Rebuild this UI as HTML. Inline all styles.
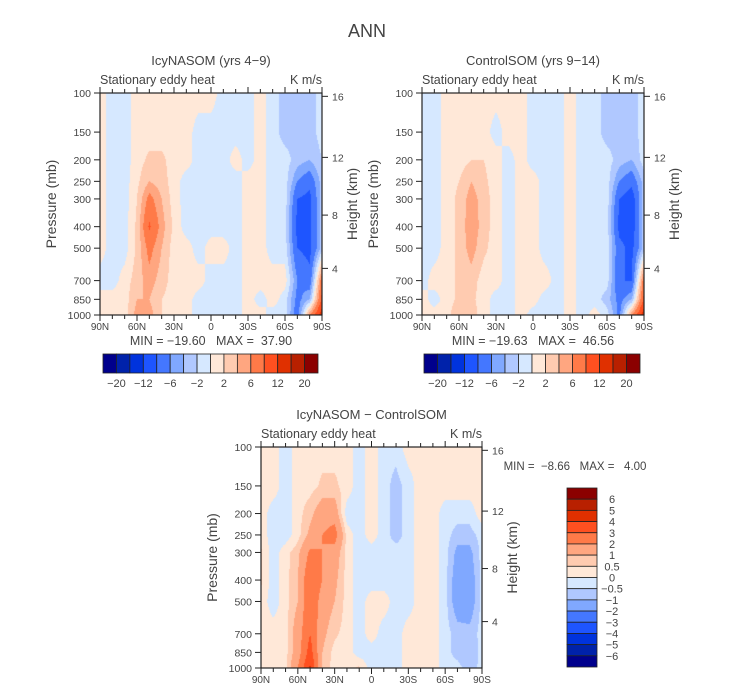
<!DOCTYPE html>
<html><head><meta charset="utf-8"><style>
body{margin:0;background:#fff;}
#wrap{position:relative;width:733px;height:693px;overflow:hidden;font-family:"Liberation Sans",sans-serif;}
canvas{position:absolute;}
svg{position:absolute;left:0;top:0;}
text{white-space:pre;}
</style></head><body>
<div id="wrap">
<canvas id="c1" width="222" height="222" style="left:100px;top:93px"></canvas>
<canvas id="c2" width="222" height="222" style="left:422px;top:93px"></canvas>
<canvas id="c3" width="221" height="221" style="left:261px;top:447px"></canvas>
<svg id="s" width="733" height="693"></svg>
</div>
<script>
const pressures=[100,150,200,250,300,400,500,700,850,1000];
const lats=[90,80,70,60,50,40,30,20,10,0,-10,-20,-30,-40,-50,-60,-70,-80,-90];
const icyField=[
[1,-1,-1,1,1,1,1,1,1,1,-1,-1,-1,1,-1,-3,-3,-3,-1],
[1,-1,-1,1,1,1,1,1,-1,-1,-1,-1,-1,1,-1,-3,-3,-3,-1],
[1,-1,-1,1,2.5,2.5,1,1,-1,-1,-1,1,-1,1,-1,-1,-3,-4,-2],
[1,-1,-1,1.5,4,3,1,-1,-1,-1,-1,-1,1,1,-1,-1,-6,-8,-3],
[1,-1,-1,2,7,4,1,-1,-1,-1,-1,-1,1,1,-1,-1,-9,-10,-3],
[1,-1,-1,2.5,9.5,5,1.5,-1,-1,-1,-1,-1,1,1,-1,-1,-10,-10,-3],
[1,-1,-1,2.5,7,4,1,1,-1,1,1,-1,1,1,-1,-1,-9,-10,-3],
[-1,-1,1,3,5,3,1,1,1,-1,-1,-1,1,1,1,1,-6,-8,8],
[1,1,1,4,4,2,1,1,-1,-1,-1,-1,1,-1,1,-1,-7,-4,10],
[1,1,1,5,5,2,1,1,-1,-1,-2,-1,1,1,-1,-1,-8,6,14]];
const ctlField=[
[-1,-1,1,1,1,1,1,1,1,-1,-1,-1,1,-1,-1,-3,-3,-3,-1],
[-1,-1,1,1,1,1,-1,1,1,-1,-1,-1,1,-1,-1,-3,-3,-3,-1],
[-1,-1,1,1,2,2,1,-1,1,-1,-1,-1,1,-1,-1,-1,-3,-4,-1],
[-1,-1,1,2,4,2.5,1,-1,1,1,-1,-1,1,-1,-1,-1,-6,-8,-3],
[-1,-1,1,2.5,5,3,1,-1,1,1,-1,-1,1,-1,-1,-1,-9,-11,-3],
[-1,-1,1,2.5,5.5,3,1,-1,1,1,-1,-1,1,-1,-1,-1,-10,-11,-3],
[-1,-1,1,2.5,5,2.5,1,-1,1,1,-1,-1,1,-1,-1,-1,-8,-10,-3],
[-1,1,1,2.5,3,1,1,-1,1,1,1,-1,1,-1,-1,-1,-9,-9,8],
[1,-1,1,2.5,2.5,1,-1,-1,1,1,-1,-1,1,-1,-1,-3,-7,-4,10],
[1,1,1,4,3,1,-1,-1,1,-1,-2,-1,1,-1,1,-1,-7,6,14]];
const diffField=[
[.3,.3,-.3,.3,.3,.3,.3,.3,-.3,.3,-.3,-.3,.3,.3,.3,.3,.3,.3,.3],
[.3,.3,-.3,.3,.3,.6,.6,.3,-.3,.3,-.3,-.7,-.3,.3,.3,.3,.3,.3,.3],
[.3,-.3,-.3,.3,.8,1.5,1.5,-.3,-.3,.3,-.3,-.7,-.3,.3,.3,-.3,-.3,-.3,.3],
[.3,-.3,-.3,.3,1.2,2,2.5,.3,-.3,.3,-.3,-.7,-.3,.3,.3,-.3,-.7,-.7,-.3],
[.6,-.3,.3,.8,2.2,2,1.5,.3,-.3,-.3,-.3,-.3,-.3,.3,.3,-.3,-1.2,-1.2,-.3],
[.6,-.3,.3,1,3,2,1.2,.3,-.3,-.3,-.3,-.3,-.3,.3,.3,-.3,-1.5,-1.5,-.3],
[.3,-.3,.3,1,3,1.5,1,.3,-.3,.3,.3,-.3,-.3,.3,.3,-.3,-1.5,-1.5,-.3],
[.3,.3,.3,1.5,3,1.2,.6,.3,-.3,.3,-.3,-.3,.3,.3,.3,-.3,-.7,-.8,-.3],
[.3,.3,.3,1.5,3.5,1,.3,.3,-.3,-.3,-.3,-.3,.3,.3,.3,-.3,-.7,-1,-.3],
[.3,.3,.3,2,4.2,.8,.3,.3,.6,-.3,-.3,-.3,.3,.3,.3,-.3,-.3,-.8,-.3]];
const levelsTop=[-20,-16,-12,-9,-6,-4,-2,0,2,4,6,9,12,16,20];
const levelLabelsTop=["-20","-12","-6","-2","2","6","12","20"];
const levelsDiff=[-6,-5,-4,-3,-2,-1,-0.5,0,0.5,1,2,3,4,5,6];
const levelLabelsDiff=["-6","-5","-4","-3","-2","-1","-0.5","0","0.5","1","2","3","4","5","6"];
const pTicks=[100,150,200,250,300,400,500,700,850,1000];
const latTicks=[90,60,30,0,-30,-60,-90];
const latTickLabels=["90N","60N","30N","0","30S","60S","90S"];
const hTicks=[16,12,8,4];
const colors=["#00008c","#0022aa","#0033dd","#1e55ff","#4477ff","#80a8ff","#b0c8ff","#d6e8ff","#ffe8d8","#ffcbb0","#ffa680","#ff7a48","#ff5020","#e03000","#b82000","#8b0000"];
function hex(c){return [parseInt(c.slice(1,3),16),parseInt(c.slice(3,5),16),parseInt(c.slice(5,7),16)];}
const rgb=colors.map(hex);
function pFrac(p){return Math.log10(p)-2;}
function hFrac(h){return {16:0.015,12:0.29,8:0.55,4:0.79}[h];}
function render(id,field,levels){
  const cv=document.getElementById(id),ctx=cv.getContext('2d');
  const W=cv.width,H=cv.height,img=ctx.createImageData(W,H);
  const lf=pressures.map(pFrac);
  for(let y=0;y<H;y++){
    const f=(y+0.5)/H;let r=0;while(r<lf.length-2&&lf[r+1]<f)r++;
    const ty=Math.min(1,Math.max(0,(f-lf[r])/(lf[r+1]-lf[r])));
    for(let x=0;x<W;x++){
      const gx=(x+0.5)/W*(lats.length-1);const c=Math.min(lats.length-2,Math.floor(gx));const tx=gx-c;
      const v=(field[r][c]*(1-tx)+field[r][c+1]*tx)*(1-ty)+(field[r+1][c]*(1-tx)+field[r+1][c+1]*tx)*ty;
      let k=0;while(k<levels.length&&v>levels[k])k++;
      const col=rgb[k],i=(y*W+x)*4;img.data[i]=col[0];img.data[i+1]=col[1];img.data[i+2]=col[2];img.data[i+3]=255;
    }}
  ctx.putImageData(img,0,0);
}
render('c1',icyField,levelsTop);render('c2',ctlField,levelsTop);render('c3',diffField,levelsDiff);
const S=document.getElementById('s'),NS="http://www.w3.org/2000/svg";
function el(t,a,parent){const e=document.createElementNS(NS,t);for(const k in a)e.setAttribute(k,a[k]);(parent||S).appendChild(e);return e;}
function txt(x,y,s,size,anchor,name,extra){const e=el('text',Object.assign({x:x,y:y,'font-size':size,'text-anchor':anchor||'middle',fill:'#444','font-family':'Liberation Sans, sans-serif'},extra||{}));e.textContent=s.replace(/-/g,'\u2212');


return e;}
txt(367,37,'ANN',18,'middle','figure-title');
function panel(L,T,W,H,title,minmax,pfx){
  const g=el('g',{});
  
  
  el('rect',{x:L,y:T,width:W,height:H,fill:'none',stroke:'#222','stroke-width':1.2},g);
  const cx=L+W/2;
  txt(cx,T-28,title,13,'middle',pfx+'-title');
  txt(L,T-9,'Stationary eddy heat',12.5,'start',pfx+'-variable-label');
  txt(L+W,T-9,'K m/s',12.5,'end',pfx+'-units-label');
  for(let la=90;la>=-90;la-=10){const x=L+W*(90-la)/180;const maj=la%30===0;
    el('line',{x1:x,y1:T+H,x2:x,y2:T+H+(maj?6:4),stroke:'#222'},g);
    el('line',{x1:x,y1:T,x2:x,y2:T-(maj?6:4),stroke:'#222'},g);}
  latTicks.forEach((la,i)=>{txt(L+W*(90-la)/180,T+H+15,latTickLabels[i],10,'middle',pfx+'-x-tick-label');});
  pTicks.forEach(p=>{const y=T+H*pFrac(p);el('line',{x1:L,y1:y,x2:L-6,y2:y,stroke:'#222'},g);txt(L-9,y+4,String(p),10.5,'end',pfx+'-y-tick-label');});
  hTicks.forEach(h=>{const y=T+H*hFrac(h);el('line',{x1:L+W,y1:y,x2:L+W+6,y2:y,stroke:'#222'},g);txt(L+W+10,y+4,String(h),10.5,'start',pfx+'-height-tick-label');});
  txt(0,0,'Pressure (mb)',14,'middle',pfx+'-y-axis-title',{transform:`translate(${L-44},${T+H/2}) rotate(-90)`});
  txt(0,0,'Height (km)',14,'middle',pfx+'-height-axis-title',{transform:`translate(${L+W+35},${T+H/2}) rotate(-90)`});
  if(minmax)txt(cx,T+H+30,minmax,12.5,'middle',pfx+'-min-max');
}
panel(100,93,222,222,'IcyNASOM (yrs 4-9)','MIN = -19.60   MAX =  37.90','icynasom');
panel(422,93,222,222,'ControlSOM (yrs 9-14)','MIN = -19.63   MAX =  46.56','controlsom');
panel(261,447,221,221,'IcyNASOM - ControlSOM',null,'difference');
txt(575,470,'MIN =  -8.66   MAX =   4.00',11.5,'middle','difference-min-max');
function hbar(L,T,W,H,pfx){const bw=W/colors.length;
  colors.forEach((c,i)=>{const r=el('rect',{x:L+i*bw,y:T,width:bw,height:H,fill:c,stroke:'#222','stroke-width':0.8});
  
  });
  levelLabelsTop.forEach((s,j)=>{const x=L+bw*(1+2*j);txt(x,T+H+14,s,11,'middle',pfx+'-colorbar-label');});}
hbar(103,354,215,19,'icynasom');hbar(424,354,216,19,'controlsom');
(function(){const L=567,T=488,W=30,H=179,bh=H/colors.length;
  colors.slice().reverse().forEach((c,i)=>{const r=el('rect',{x:L,y:T+i*bh,width:W,height:bh,fill:c,stroke:'#222','stroke-width':0.8});
  
  });
  levelLabelsDiff.slice().reverse().forEach((s,i)=>{txt(612,T+bh*(i+1)+4,s,11,'middle','difference-colorbar-label');});})();
</script>
</body></html>
